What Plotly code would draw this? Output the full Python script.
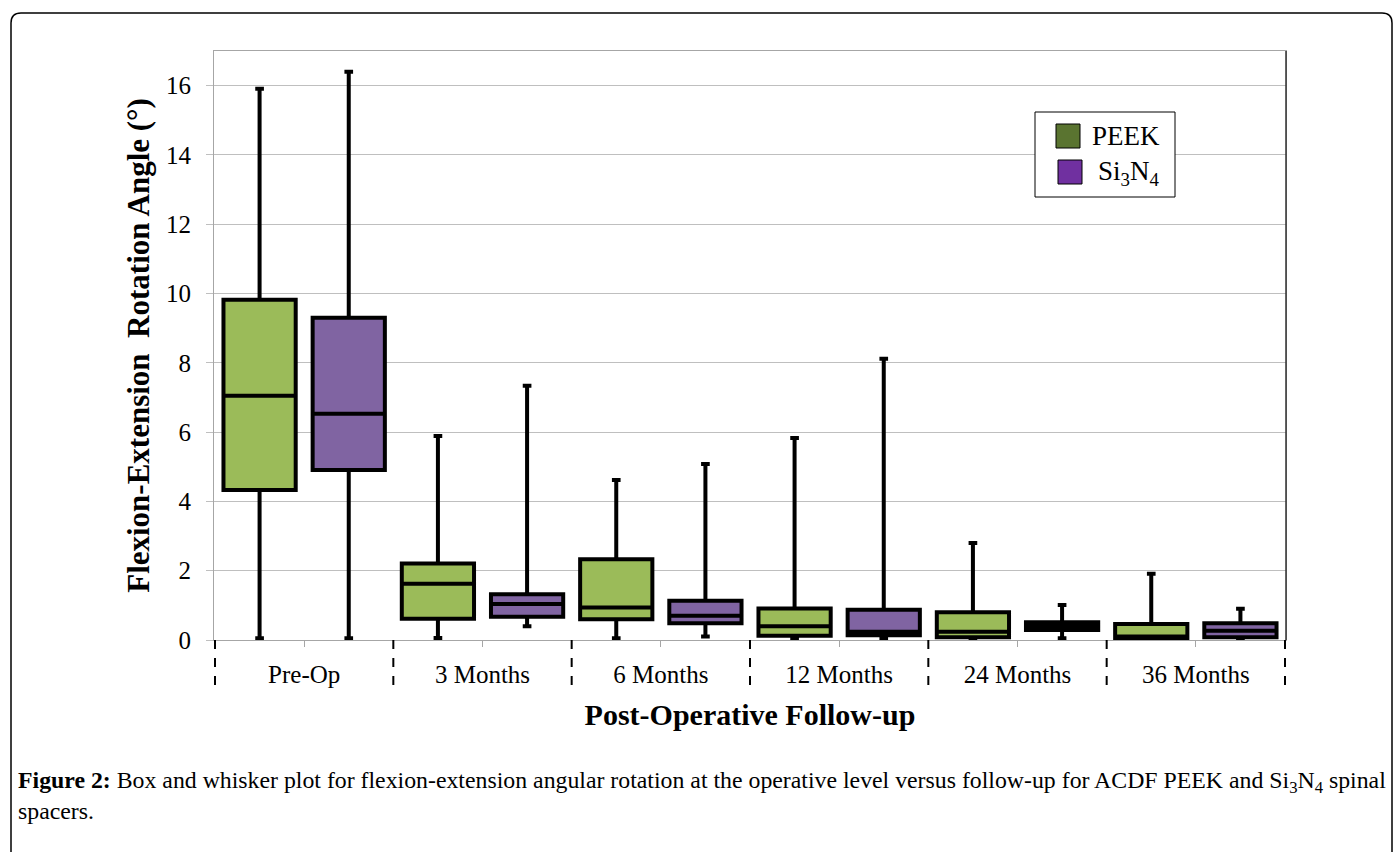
import plotly.graph_objects as go

# Follow-up time points
categories = ["Pre-Op", "3 Months", "6 Months", "12 Months", "24 Months", "36 Months"]

# PEEK spacers: five-number summaries (degrees)
peek_low = [0.05, 0.06, 0.05, 0.04, 0.03, 0.02]
peek_q1 = [4.33, 0.61, 0.60, 0.12, 0.08, 0.05]
peek_median = [7.05, 1.62, 0.94, 0.40, 0.24, 0.10]
peek_q3 = [9.82, 2.21, 2.33, 0.91, 0.80, 0.46]
peek_high = [15.91, 5.89, 4.62, 5.83, 2.80, 1.91]

# Si3N4 spacers: five-number summaries (degrees)
si_low = [0.05, 0.40, 0.10, 0.04, 0.05, 0.02]
si_q1 = [4.91, 0.67, 0.48, 0.14, 0.29, 0.08]
si_median = [6.53, 1.04, 0.70, 0.24, 0.40, 0.27]
si_q3 = [9.30, 1.32, 1.13, 0.87, 0.51, 0.48]
si_high = [16.40, 7.34, 5.08, 8.12, 1.01, 0.90]

y_ticks = [0, 2, 4, 6, 8, 10, 12, 14, 16]

series_names = ["PEEK", "Si<sub>3</sub>N<sub>4</sub>"]
legend_colors = ["#5A7430", "#7030A0"]

SERIF = "Liberation Serif"
W, H = 1394, 852
ML, MR, MT, MB = 214, 108, 51, 212
PW, PH = W - ML - MR, H - MT - MB


def px_x(x):
    return (x - ML) / PW


def px_y(y):
    return (H - MB - y) / PH


fig = go.Figure()

fig.add_trace(go.Box(
    name="PEEK", x=categories,
    q1=peek_q1, median=peek_median, q3=peek_q3,
    lowerfence=peek_low, upperfence=peek_high,
    fillcolor="#9BBB59", line=dict(color="black", width=4),
    whiskerwidth=0.12, boxpoints=False, showlegend=False,
    offsetgroup="peek",
))
fig.add_trace(go.Box(
    name="Si3N4", x=categories,
    q1=si_q1, median=si_median, q3=si_q3,
    lowerfence=si_low, upperfence=si_high,
    fillcolor="#8064A2", line=dict(color="black", width=4),
    whiskerwidth=0.12, boxpoints=False, showlegend=False,
    offsetgroup="si",
))

# Dashed separators between follow-up groups, below the axis
for i in range(len(categories) + 1):
    fig.add_shape(type="line", xref="x", yref="paper",
                  x0=i - 0.5, x1=i - 0.5, y0=0, y1=px_y(692),
                  line=dict(color="black", width=2, dash="dash"))

# Darker right edge of the plot area
fig.add_shape(type="line", xref="paper", yref="paper", x0=1, x1=1, y0=0, y1=1,
              line=dict(color="#303030", width=1.5))

# Legend box with swatches and labels
fig.add_shape(type="rect", xref="paper", yref="paper",
              x0=px_x(1035), x1=px_x(1175), y0=px_y(197), y1=px_y(112),
              line=dict(color="black", width=1), fillcolor="white")
swatches = [(1056, 124, 1090, 136), (1058, 160, 1096, 173)]
for (sx, sy, tx, ty), name, col in zip(swatches, series_names, legend_colors):
    fig.add_shape(type="rect", xref="paper", yref="paper",
                  x0=px_x(sx), x1=px_x(sx + 24), y0=px_y(sy + 24), y1=px_y(sy),
                  line=dict(color="black", width=1), fillcolor=col)
    fig.add_annotation(xref="paper", yref="paper", x=px_x(tx), y=px_y(ty),
                       xanchor="left", yanchor="middle", showarrow=False,
                       text=name, font=dict(family=SERIF, size=27, color="black"))

# Rounded figure frame
x0, x1, y0, y1, r = 11, 1392, 13, 870, 10
frame = (
    f"M {px_x(x0)} {px_y(y1)} L {px_x(x0)} {px_y(y0 + r)} "
    f"Q {px_x(x0)} {px_y(y0)} {px_x(x0 + r)} {px_y(y0)} "
    f"L {px_x(x1 - r)} {px_y(y0)} "
    f"Q {px_x(x1)} {px_y(y0)} {px_x(x1)} {px_y(y0 + r)} "
    f"L {px_x(x1)} {px_y(y1)}"
)
fig.add_shape(type="path", xref="paper", yref="paper", path=frame,
              line=dict(color="black", width=1.5))

# Caption
fig.add_annotation(
    xref="paper", yref="paper", x=px_x(16), y=px_y(765),
    xanchor="left", yanchor="top", align="left", showarrow=False,
    text=("<b>Figure 2:</b> Box and whisker plot for flexion-extension angular rotation "
          "at the operative level versus follow-up for ACDF PEEK and "
          "Si<sub>3</sub>N<sub>4</sub> spinal<br>spacers."),
    font=dict(family=SERIF, size=23.8, color="black"),
)

fig.update_layout(
    width=W, height=H,
    margin=dict(l=ML, r=MR, t=MT, b=MB),
    paper_bgcolor="white", plot_bgcolor="white",
    boxmode="group", boxgap=0, boxgroupgap=0.19,
    font=dict(family=SERIF, color="black"),
    showlegend=False,
    xaxis=dict(
        type="category", categoryorder="array", categoryarray=categories,
        showgrid=False, showline=True, linecolor="#A6A6A6", linewidth=1,
        mirror=True, ticks="outside", ticklen=6, tickcolor="#A6A6A6",
        ticklabelstandoff=6,
        tickfont=dict(family=SERIF, size=25, color="black"),
        title=dict(text="<b>Post-Operative Follow-up</b>",
                   font=dict(family=SERIF, size=30, color="black"),
                   standoff=16),
    ),
    yaxis=dict(
        range=[0, 17], tickvals=y_ticks,
        showgrid=True, gridcolor="#BFBFBF", gridwidth=1,
        zeroline=False, showline=True, linecolor="#A6A6A6", linewidth=1,
        mirror=True, ticks="outside", ticklen=7, tickcolor="#BFBFBF",
        ticklabelstandoff=10,
        tickfont=dict(family=SERIF, size=25, color="black"),
        title=dict(text="<b>Flexion-Extension  Rotation Angle (°)</b>",
                   font=dict(family=SERIF, size=31, color="black"),
                   standoff=7),
    ),
)

fig.write_html("out.html")
